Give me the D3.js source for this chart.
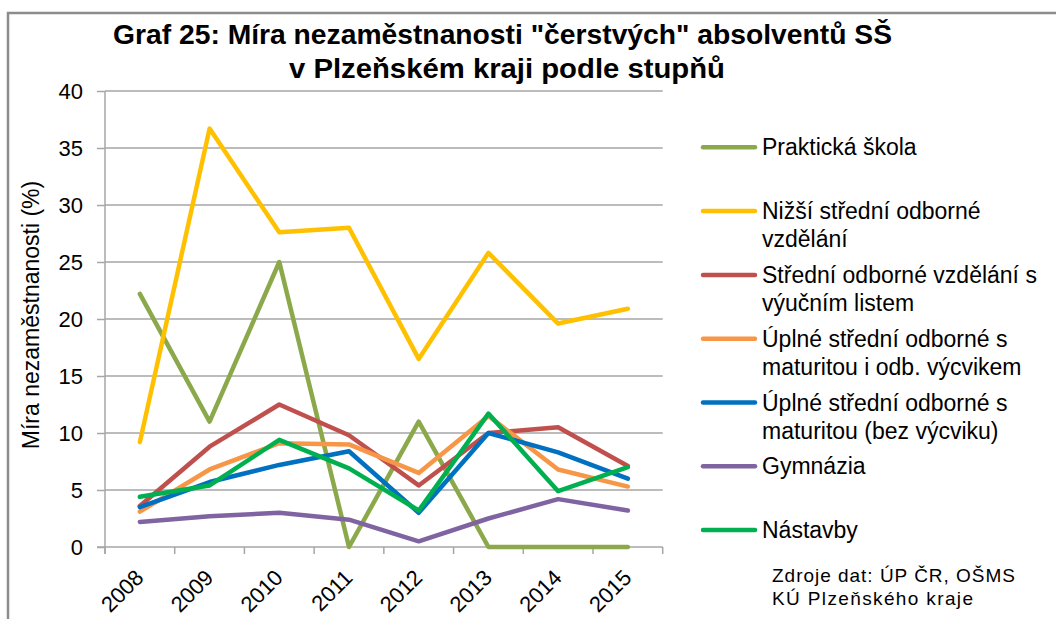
<!DOCTYPE html>
<html>
<head>
<meta charset="utf-8">
<script src="https://cdn.jsdelivr.net/npm/d3@7"></script>
<style>
  html, body { margin: 0; padding: 0; background: #fff; }
  svg { display: block; }
  text { font-family: "Liberation Sans", Arial, sans-serif; fill: #000; }
</style>
</head>
<body>
<svg id="chart" width="1056" height="619"></svg>
<script>
const years = ["2008", "2009", "2010", "2011", "2012", "2013", "2014", "2015"];
const yTicks = [0, 5, 10, 15, 20, 25, 30, 35, 40];

const seriesNames = [
  ["Praktická škola"],
  ["Nižší střední odborné", "vzdělání"],
  ["Střední odborné vzdělání s", "výučním listem"],
  ["Úplné střední odborné s", "maturitou i odb. výcvikem"],
  ["Úplné střední odborné s", "maturitou (bez výcviku)"],
  ["Gymnázia"],
  ["Nástavby"]
];
const seriesColors = ["#8BA94A", "#FFC000", "#C0504D", "#F79646", "#0070C0", "#8064A2", "#00B050"];

const praktickaSkola   = [22.2, 11.0, 25.0, 0.0, 11.0, 0.0, 0.0, 0.0];
const nizsiStredni     = [9.2, 36.7, 27.6, 28.0, 16.5, 25.8, 19.6, 20.9];
const stredniVyucni    = [3.6, 8.8, 12.5, 9.8, 5.4, 10.0, 10.5, 7.1];
const uplneVycvik      = [3.1, 6.8, 9.1, 9.0, 6.5, 11.5, 6.8, 5.3];
const uplneBezVycviku  = [3.5, 5.7, 7.2, 8.4, 3.0, 10.0, 8.3, 6.0];
const gymnazia         = [2.2, 2.7, 3.0, 2.4, 0.5, 2.5, 4.2, 3.2];
const nastavby         = [4.4, 5.4, 9.4, 6.9, 3.2, 11.7, 4.9, 7.0];

const seriesValues = [praktickaSkola, nizsiStredni, stredniVyucni, uplneVycvik, uplneBezVycviku, gymnazia, nastavby];

const titleLines = ["Graf 25: Míra nezaměstnanosti \"čerstvých\" absolventů SŠ", "v Plzeňském kraji podle stupňů"];
const yAxisTitle = "Míra nezaměstnanosti (%)";
const sourceLines = ["Zdroje dat: ÚP ČR, OŠMS", "KÚ Plzeňského kraje"];

const svg = d3.select("#chart");

// Outer frame
svg.append("path")
  .attr("d", "M8,619 L8,13 L1056,13")
  .attr("fill", "none")
  .attr("stroke", "#8c8c8c")
  .attr("stroke-width", 2.5);

const plot = { left: 105, right: 662.7, top: 91, bottom: 547 };

const x = d3.scaleBand().domain(years).range([plot.left, plot.right]).paddingInner(0).paddingOuter(0);
const y = d3.scaleLinear().domain([0, 40]).range([plot.bottom, plot.top]);

const gridColor = "#a6a6a6";

// Gridlines
svg.append("g")
  .selectAll("line")
  .data(yTicks.filter(d => d > 0))
  .join("line")
  .attr("x1", plot.left).attr("x2", plot.right)
  .attr("y1", d => y(d)).attr("y2", d => y(d))
  .attr("stroke", gridColor).attr("stroke-width", 1.5);

// Y axis
const yAxis = d3.axisLeft(y).tickValues(yTicks).tickSize(8).tickPadding(14).tickFormat(d3.format("d"));
const gy = svg.append("g").attr("transform", `translate(${plot.left},0)`).call(yAxis);
gy.select(".domain").remove();
gy.selectAll(".tick line").attr("stroke", gridColor).attr("stroke-width", 1.5);
gy.selectAll(".tick text").style("font-size", "22px").style("font-family", "'Liberation Sans', Arial, sans-serif").attr("fill", "#000");
svg.append("line")
  .attr("x1", plot.left).attr("x2", plot.left)
  .attr("y1", plot.top).attr("y2", plot.bottom + 7)
  .attr("stroke", gridColor).attr("stroke-width", 1.5);

// X axis
svg.append("line")
  .attr("x1", plot.left - 8).attr("x2", plot.right)
  .attr("y1", plot.bottom).attr("y2", plot.bottom)
  .attr("stroke", gridColor).attr("stroke-width", 1.5);
const boundaries = years.map(d => x(d)).concat([x(years[years.length - 1]) + x.bandwidth()]);
svg.append("g").selectAll("line").data(boundaries).join("line")
  .attr("x1", d => d).attr("x2", d => d)
  .attr("y1", plot.bottom).attr("y2", plot.bottom + 7)
  .attr("stroke", gridColor).attr("stroke-width", 1.5);

svg.append("g").selectAll("text").data(years).join("text")
  .attr("transform", d => `translate(${x(d) + x.bandwidth() / 2 + 5},579) rotate(-45)`)
  .attr("text-anchor", "end")
  .style("font-size", "22px")
  .text(d => d);

// Y axis title
svg.append("text")
  .attr("transform", `translate(39,${(178 + 452) / 2}) rotate(-90)`)
  .attr("text-anchor", "middle")
  .style("font-size", "23px")
  .text(yAxisTitle);

// Series lines
const line = d3.line()
  .x((d, i) => x(years[i]) + x.bandwidth() / 2)
  .y(d => y(d));

svg.append("g").selectAll("path").data(seriesValues).join("path")
  .attr("d", d => line(d))
  .attr("fill", "none")
  .attr("stroke", (d, i) => seriesColors[i])
  .attr("stroke-width", 4.5)
  .attr("stroke-linejoin", "round")
  .attr("stroke-linecap", "round");

// Legend
const legend = svg.append("g");
seriesNames.forEach((lines, i) => {
  const ly = 147.3 + i * 63.8;
  legend.append("line")
    .attr("x1", 703).attr("x2", 755)
    .attr("y1", ly).attr("y2", ly)
    .attr("stroke", seriesColors[i])
    .attr("stroke-width", 4.5)
    .attr("stroke-linecap", "round");
  lines.forEach((t, j) => {
    legend.append("text")
      .attr("x", 762)
      .attr("y", ly + 8 + j * 28.3)
      .style("font-size", "23px")
      .text(t);
  });
});

// Title
const titleG = svg.append("g");
titleG.append("text")
  .attr("x", 113).attr("y", 43.5)
  .attr("textLength", 779).attr("lengthAdjust", "spacingAndGlyphs")
  .style("font-size", "27px").style("font-weight", "bold")
  .text(titleLines[0]);
titleG.append("text")
  .attr("x", 289).attr("y", 78)
  .attr("textLength", 436).attr("lengthAdjust", "spacingAndGlyphs")
  .style("font-size", "27px").style("font-weight", "bold")
  .text(titleLines[1]);

// Source
svg.append("text")
  .attr("x", 772).attr("y", 582)
  .attr("textLength", 243).attr("lengthAdjust", "spacing")
  .style("font-size", "19px")
  .text(sourceLines[0]);
svg.append("text")
  .attr("x", 772).attr("y", 605)
  .attr("textLength", 201).attr("lengthAdjust", "spacing")
  .style("font-size", "19px")
  .text(sourceLines[1]);
</script>
</body>
</html>
